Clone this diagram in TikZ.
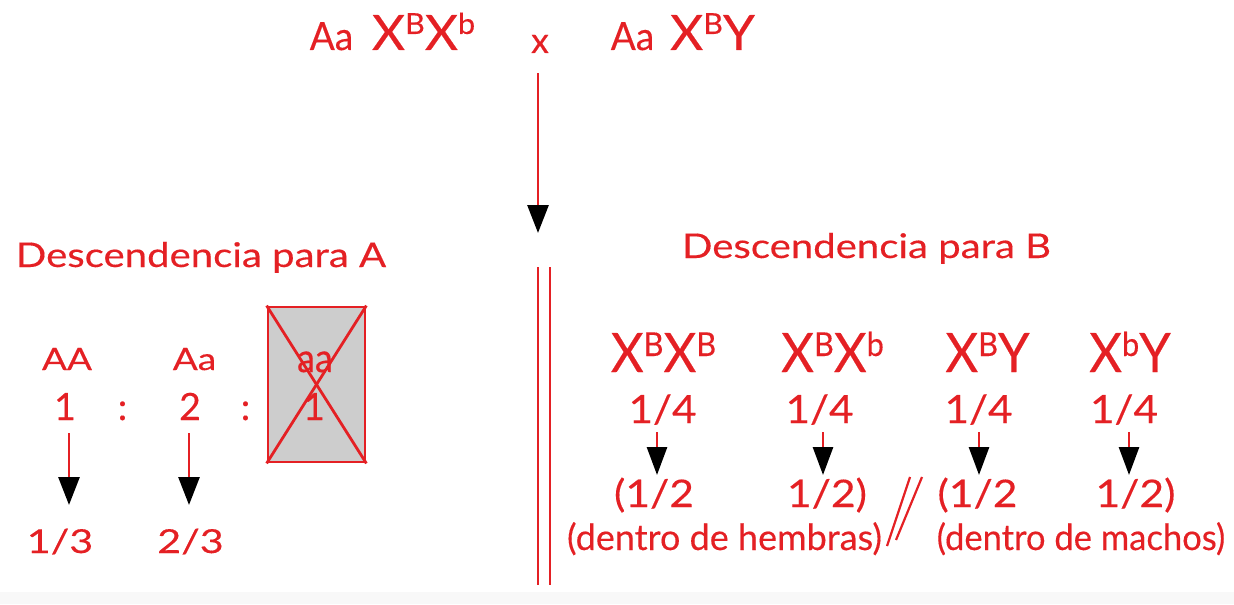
\documentclass[tikz,border=0pt]{standalone}
\usepackage{fontspec}
\setmainfont[FakeBold=0.3]{Lato}
\usetikzlibrary{arrows.meta}
\definecolor{myred}{RGB}{228,32,36}
\definecolor{boxgray}{RGB}{205,205,205}
\definecolor{bandgray}{RGB}{248,248,248}
\newcommand\ff[2]{\fontsize{#1}{#1}\selectfont\addfontfeatures{FakeStretch=#2}}
\newcommand\Xtop[1]{{\ff{24.4}{1.05}X}\raisebox{8pt}{\ff{14.5}{1.05}#1}}
\newcommand\Xbig[1]{{\ff{27.2}{0.93}X}\raisebox{8pt}{\ff{16.5}{0.93}#1}}
\begin{document}
\begin{tikzpicture}[x=0.5pt,y=-0.5pt,
  t/.style={inner sep=0pt,text depth=0pt,anchor=base,text=myred},
  ln/.style={draw=myred,line width=1.4pt},
  arrM/.style={ln,-{Triangle[color=black,width=10.5pt,length=14pt]}},
  arrL/.style={ln,-{Triangle[color=black,width=10.5pt,length=14pt]}},
  arrR/.style={ln,-{Triangle[color=black,width=10pt,length=14pt]}},
  desc/.style={t,font=\ff{17}{1.18}},
  lnum/.style={t,font=\ff{18.8}{1.0}},
  frac/.style={t,font=\ff{19.5}{1.08}},
  half/.style={t,font=\ff{19}{1.12}}]
\useasboundingbox (0,0) rectangle (1234,604);
\fill[bandgray] (0,592) rectangle (1234,604);
% parents
\node[t,font=\ff{19.5}{0.95}] (pa1) at (331.5,50) {Aa};
\node[t] (px1) at (423.5,50) {\Xtop{B}\Xtop{b}};
\node[t,font=\ff{17.8}{1}] (cross) at (540,53) {x};
\node[t,font=\ff{19.5}{0.95}] (pa2) at (632.5,50) {Aa};
\node[t] (px2) at (712.5,50) {\Xtop{B}{\ff{24.4}{1.05}Y}};
\coordinate (mainend) at (538,233);
\draw[arrM] ([xshift=-1pt,yshift=-10pt]cross.south) -- (mainend);
% separator
\draw[ln] (538,267) -- (538,585);
\draw[ln] (550,267) -- (550,585);
% left: A
\node[desc] (dA) at (201,267) {Descendencia para A};
\node[t,font=\ff{15.4}{1.2}] (gAA) at (67,370) {AA};
\node[t,font=\ff{15.4}{1.2}] (gAa) at (194.5,370) {Aa};
\node[lnum] (n1) at (65,420) {1};
\node[lnum] (c1) at (122.5,420) {:};
\node[lnum] (n2) at (190,420) {2};
\node[lnum] (c2) at (245.5,420) {:};
\node[draw=myred,fill=boxgray,line width=1.4pt,minimum width=48.5pt,minimum height=77.5pt,inner sep=0pt] (box) at (316.5,384.5) {};
\node[t,font=\ff{20}{0.9}] (gaa) at (315,372) {aa};
\node[lnum] (n3) at (314,420) {1};
\draw[ln] (box.north west) -- (box.south east);
\draw[ln] (box.north east) -- (box.south west);
\coordinate (eA1) at (69,505);
\coordinate (eA2) at (189,505);
\draw[arrL] ([xshift=2pt,yshift=-6.5pt]n1.south) -- (eA1);
\draw[arrL] ([xshift=-0.5pt,yshift=-6.5pt]n2.south) -- (eA2);
\node[t,font=\ff{16.5}{1.25}] (r1) at (60,553) {1/3};
\node[t,font=\ff{16.5}{1.25}] (r2) at (190.5,553) {2/3};
% right: B
\node[desc] (dB) at (866.5,258) {Descendencia para B};
\node[t] (g1) at (663.5,372) {\Xbig{B}\Xbig{B}};
\node[t] (g2) at (832.5,372) {\Xbig{B}\Xbig{b}};
\node[t] (g3) at (987.5,372) {\Xbig{B}{\ff{27.2}{0.93}Y}};
\node[t] (g4) at (1130,372) {\Xbig{b}{\ff{27.2}{0.93}Y}};
\node[frac] (q1) at (662.5,423) {1/4};
\node[frac] (q2) at (819.5,423) {1/4};
\node[frac] (q3) at (978.5,423) {1/4};
\node[frac] (q4) at (1124,423) {1/4};
\node[half] (h1) at (654,507) {(1/2};
\node[half] (h2) at (827,507) {1/2)};
\node[half] (h3) at (977.5,507) {(1/2};
\node[half] (h4) at (1135.5,507) {1/2)};
\coordinate (eB1) at (657,475);
\coordinate (eB2) at (823,475);
\coordinate (eB3) at (979,475);
\coordinate (eB4) at (1129,475);
\draw[arrR] ([xshift=-2.75pt,yshift=-4.5pt]q1.south) -- (eB1);
\draw[arrR] ([xshift=1.75pt,yshift=-4.5pt]q2.south) -- (eB2);
\draw[arrR] ([xshift=0.25pt,yshift=-4.5pt]q3.south) -- (eB3);
\draw[arrR] ([xshift=2.5pt,yshift=-4.5pt]q4.south) -- (eB4);
\draw[ln,line width=1.1pt] (887,546) -- (910,477);
\draw[ln,line width=1.1pt] (896,540) -- (922,477);
\node[t,font=\ff{18}{1.0}] (dh) at (724.5,550) {(dentro de hembras)};
\node[t,font=\ff{18}{0.96}] (dm) at (1081,550) {(dentro de machos)};
\end{tikzpicture}
\end{document}
